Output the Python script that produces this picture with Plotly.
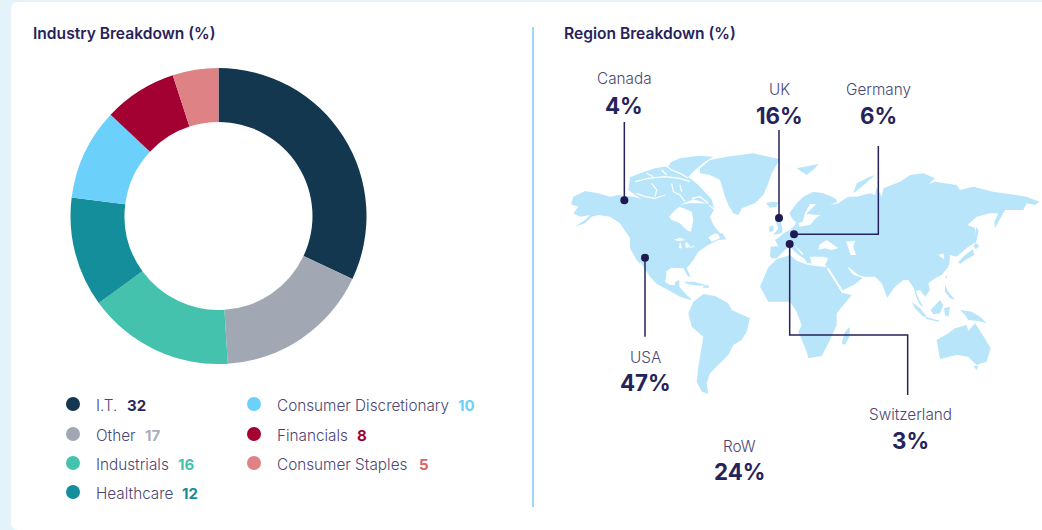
import plotly.graph_objects as go

W, H = 1042, 530
FONT = "Inter"
NAVY = "#26235C"
MUTED = "#4B4775"
LAND = "#B9E5FB"

# ---- donut data
INDUSTRIES = ["I.T.", "Other", "Industrials", "Healthcare", "Consumer Discretionary", "Financials", "Consumer Staples"]
WEIGHTS = [32, 17, 16, 12, 10, 8, 5]
SLICE_COLORS = ["#12374F", "#A1A8B4", "#45C2AE", "#148E9A", "#6BD0FA", "#A30132", "#DE8286"]
VALUE_COLORS = ["#2B275F", "#A9AEBB", "#45C2AE", "#148E9A", "#6BD0FA", "#A30132", "#D8646C"]

# ---- region data
REGIONS = ["Canada", "UK", "Germany", "USA", "Switzerland", "RoW"]
REGION_SHARES = [4, 16, 6, 47, 3, 24]

# ---- map outlines, in map units (3 units per pixel)
NORTH_AMERICA = [(33,193),(40,170),(75,153),(115,160),(150,170),(175,165),(220,170),(245,177),(280,175),(315,175),(345,180),(360,195),(385,190),(410,190),(440,190),(462,210),(450,230),(460,255),(480,280),(500,298),(475,300),(445,315),(415,335),(400,360),(380,385),(392,410),(383,408),(370,385),(335,383),(317,395),(320,400),(315,425),(330,435),(345,435),(345,425),(358,420),(358,440),(380,465),(395,478),(390,480),(360,470),(320,448),(290,432),(270,410),(255,390),(230,360),(210,325),(210,295),(180,250),(150,230),(115,225),(95,230),(75,250),(45,260),(75,240),(90,225),(60,230),(40,220),(55,200)]
ARCTIC_BLOCK = [(210,112),(240,100),(285,85),(325,78),(335,65),(360,55),(415,47),(460,50),(435,65),(405,90),(385,110),(415,135),(455,178),(462,205),(440,190),(400,178),(360,195),(315,178),(245,178),(205,150)]
ARCTIC_CHANNELS = [
    [(225,125),(265,115),(315,110),(360,115),(390,125)],
    [(230,160),(255,170),(285,175),(315,165)],
    [(275,130),(290,150),(285,170)],
    [(335,130),(340,155),(360,165),(375,185)],
    [(315,75),(335,90),(360,100),(385,115)],
    [(360,135),(365,155)],
    [(395,175),(420,170),(445,190)],
    [(260,100),(280,110)],
    [(305,90),(320,105)],
]
HUDSON_BAY = [(327,230),(345,210),(360,200),(395,215),(400,240),(393,275),(380,270),(360,250),(335,240)]
LAKES = [[(340,300),(360,293),(375,300),(358,303)],[(360,305),(366,325),(357,325)],[(378,305),(392,318),(380,325),(375,315)],[(385,325),(405,315),(400,322)]]
ST_LAWRENCE = [(445,292),(465,280),(485,285),(480,295),(455,305)]
NEWFOUNDLAND = [(474,282),(488,280),(494,292),(480,294)]
GULF_OF_CALIFORNIA = [(240,368),(252,385),(266,408)]
GREENLAND = [(420,85),(450,60),(500,50),(580,40),(660,58),(635,100),(625,130),(610,165),(585,190),(545,205),(535,225),(520,220),(505,195),(495,170),(480,120),(450,105),(420,100)]
ICELAND = [(618,190),(635,185),(655,187),(650,200),(630,203)]
SVALBARD = [(710,85),(740,78),(775,72),(765,85),(740,105),(725,95)]
BRITAIN = [(645,240),(660,235),(668,270),(665,280),(640,285),(655,265)]
IRELAND = [(628,262),(640,255),(640,272),(628,277)]
NOVAYA_ZEMLYA = [(880,160),(890,130),(930,110),(945,105),(900,145)]
EURASIA = [(630,345),(632,320),(655,318),(645,300),(660,290),(670,280),(690,270),(705,255),(712,240),(718,260),(750,255),(765,237),(780,225),(755,223),(738,222),(768,193),(750,192),(735,220),(728,245),(712,250),(698,238),(688,220),(710,190),(730,170),(760,155),(790,160),(825,175),(832,185),(810,195),(835,190),(865,170),(890,170),(930,160),(945,165),(950,140),(965,170),(970,145),(995,135),(1020,125),(1050,105),(1090,100),(1125,115),(1105,133),(1125,125),(1190,135),(1200,150),(1240,140),(1300,155),(1360,165),(1400,170),(1438,185),(1425,195),(1400,190),(1390,210),(1355,210),(1335,210),(1305,265),(1303,245),(1315,220),(1290,220),(1250,230),(1222,255),(1245,263),(1250,305),(1225,320),(1190,350),(1170,345),(1168,375),(1155,375),(1150,340),(1135,345),(1155,360),(1162,360),(1165,380),(1145,405),(1125,415),(1105,430),(1110,450),(1095,470),(1080,450),(1068,453),(1075,475),(1090,500),(1080,495),(1068,470),(1062,445),(1045,420),(1030,420),(1005,440),(982,473),(965,430),(945,410),(912,410),(895,405),(870,385),(862,380),(875,400),(887,407),(908,413),(885,433),(850,450),(845,452),(820,415),(800,385),(795,375),(805,355),(790,350),(750,350),(755,372),(740,365),(725,335),(703,315),(722,340),(745,358),(743,372),(735,358),(712,342),(695,325),(680,325),(665,340),(650,355),(633,355)]
BLACK_SEA = [(778,315),(800,300),(835,325),(815,330),(795,325),(775,330)]
CASPIAN = [(858,305),(885,302),(880,320),(888,345),(872,345),(862,320)]
RED_SEA = [(803,385),(825,420),(848,456)]
AFRICA = [(600,440),(625,382),(650,358),(690,345),(710,362),(745,375),(800,382),(810,390),(845,458),(875,465),(830,520),(830,555),(810,600),(785,648),(745,655),(740,635),(715,575),(725,555),(710,515),(690,485),(625,485)]
MADAGASCAR = [(845,610),(855,575),(870,560),(868,590),(855,615)]
SOUTH_AMERICA = [(385,520),(400,485),(430,462),(465,468),(505,490),(515,510),(570,535),(560,575),(545,600),(520,615),(505,645),(480,670),(450,700),(440,730),(445,762),(425,755),(410,725),(415,680),(430,590),(395,560)]
CARIBBEAN = [[(370,425),(400,425),(440,435),(415,437),(385,433)],[(428,437),(445,436),(448,443),(430,443)]]
AUSTRALIA = [(1130,600),(1165,580),(1185,565),(1220,555),(1225,573),(1245,550),(1265,580),(1292,625),(1280,665),(1250,675),(1225,650),(1190,645),(1140,657),(1135,630)]
TASMANIA = [(1240,678),(1255,678),(1250,690)]
ASIA_ISLANDS = [
    [(1055,485),(1080,505),(1100,530),(1090,530),(1065,505)],
    [(1095,530),(1140,542),(1135,545),(1100,537)],
    [(1112,510),(1140,480),(1150,495),(1140,520),(1120,523)],
    [(1152,505),(1170,500),(1165,530),(1155,525)],
    [(1155,435),(1165,455),(1185,480),(1170,475),(1155,455)],
    [(1158,405),(1162,415),(1156,413)],
    [(1200,510),(1235,515),(1260,530),(1280,550),(1255,543),(1225,540),(1215,525)],
    [(1195,365),(1215,345),(1238,328),(1243,345),(1220,358),(1200,372)],
    [(1248,308),(1258,318),(1248,328),(1240,318)],
    [(1248,262),(1256,270),(1250,300),(1246,290)],
]

# ---- call-out leaders, in the same map units (dot first)
LEADER_U = [[193,193],[657,657],[702,955,955],[689,689,1043,1043],[255,255]]
LEADER_V = [[181,-54],[234,-30],[283,283,18],[312,585,585,765],[353,590]]

X0, X1 = (0 - 560) * 3, (W - 560) * 3
Y0, Y1 = (0 - 140) * 3, (H - 140) * 3
def u(px): return (px - 560) * 3
def v(py): return (py - 140) * 3
def px(x): return x / W
def py(y): return 1 - y / H

fig = go.Figure()

fig.add_trace(go.Pie(
    values=WEIGHTS, labels=INDUSTRIES, sort=False, direction="clockwise", rotation=0,
    hole=0.635, marker=dict(colors=SLICE_COLORS, line=dict(width=0)),
    textinfo="none", hoverinfo="skip", showlegend=False,
    domain=dict(x=[px(70.5), px(366.5)], y=[py(364), py(68)]),
))

def poly(points, color):
    xs = [p[0] for p in points] + [points[0][0]]
    ys = [p[1] for p in points] + [points[0][1]]
    fig.add_trace(go.Scatter(x=xs, y=ys, mode="lines", fill="toself", fillcolor=color,
                             line=dict(width=0, color=color), hoverinfo="skip", showlegend=False))

def stroke(points, color, width):
    fig.add_trace(go.Scatter(x=[p[0] for p in points], y=[p[1] for p in points], mode="lines",
                             line=dict(color=color, width=width), hoverinfo="skip", showlegend=False))

land = [NORTH_AMERICA, ARCTIC_BLOCK, GREENLAND, ICELAND, SVALBARD, BRITAIN, IRELAND, NOVAYA_ZEMLYA, EURASIA,
        AFRICA, MADAGASCAR, SOUTH_AMERICA, AUSTRALIA, TASMANIA] + CARIBBEAN + ASIA_ISLANDS
for shape in land:
    poly(shape, LAND)
for shape in [HUDSON_BAY, ST_LAWRENCE, BLACK_SEA, CASPIAN] + LAKES:
    poly(shape, "#FFFFFF")
poly(NEWFOUNDLAND, LAND)
for channel in ARCTIC_CHANNELS:
    stroke(channel, "#FFFFFF", 1.2)
stroke(GULF_OF_CALIFORNIA, "#FFFFFF", 1.2)
stroke(RED_SEA, "#FFFFFF", 2)

for lu, lv in zip(LEADER_U, LEADER_V):
    fig.add_trace(go.Scatter(x=lu, y=lv, mode="lines", line=dict(color=NAVY, width=1.5),
                             hoverinfo="skip", showlegend=False))
    fig.add_trace(go.Scatter(x=lu[:1], y=lv[:1], mode="markers", marker=dict(color="#1F1B50", size=8),
                             hoverinfo="skip", showlegend=False))

LEGEND_X = [73, 73, 73, 73, 254, 254, 254]
LEGEND_Y = [404, 434, 463, 492, 404, 434, 463]
fig.add_trace(go.Scatter(x=[u(a) for a in LEGEND_X], y=[v(b) for b in LEGEND_Y], mode="markers",
                         marker=dict(color=SLICE_COLORS, size=14), hoverinfo="skip", showlegend=False))

ann = []
def text(x, y, s, size, color, weight=300, anchor="left"):
    ann.append(dict(x=px(x), y=py(y), xref="paper", yref="paper", text=s,
                    showarrow=False, xanchor=anchor, yanchor="middle",
                    font=dict(family=FONT, size=size, color=color, weight=weight), borderpad=0, borderwidth=0))

text(33, 33.5, "Industry Breakdown (%)", 15.6, NAVY, 600)
text(564, 33.5, "Region Breakdown (%)", 15.6, NAVY, 600)

LABEL_X = [96, 96, 96, 96, 277, 277, 277]
VALUE_X = [127, 145, 178, 182, 458, 357, 419]
for name, w, c, lx, vx, y in zip(INDUSTRIES, WEIGHTS, VALUE_COLORS, LABEL_X, VALUE_X, LEGEND_Y):
    text(lx, y + 1, name, 15.3, MUTED)
    text(vx, y + 1, str(w), 15, c, 700)

LABEL_POS = [(624, 78, 105), (779, 89, 115), (878, 89, 115), (645, 356, 382), (910, 413, 440), (739, 445, 471)]
for name, share, (x, y1, y2) in zip(REGIONS, REGION_SHARES, LABEL_POS):
    text(x, y1 + 1, name, 15.3, MUTED, anchor="center")
    text(x, y2, f"{share}%", 22.3, NAVY, 700, anchor="center")

rx, ry = 7 / W, 7 / H
l, t, r, b = 11 / W, 1 - 2 / H, 1.02, 0.0
card = (f"M {l+rx} {t} L {r} {t} L {r} {b} L {l+rx} {b} Q {l} {b} {l} {b+ry} "
        f"L {l} {t-ry} Q {l} {t} {l+rx} {t} Z")
shapes = [
    dict(type="path", path=card, xref="paper", yref="paper", fillcolor="#FFFFFF", line=dict(width=0), layer="below"),
    dict(type="line", xref="paper", yref="paper", x0=px(533), x1=px(533), y0=py(27), y1=py(507),
         line=dict(color="#7CCBF5", width=1.5), layer="below"),
]

fig.update_layout(
    width=W, height=H, margin=dict(l=0, r=0, t=0, b=0),
    paper_bgcolor="#E4F2F9", plot_bgcolor="rgba(0,0,0,0)",
    xaxis=dict(range=[X0, X1], visible=False, domain=[0, 1], fixedrange=True),
    yaxis=dict(range=[Y1, Y0], visible=False, domain=[0, 1], fixedrange=True),
    annotations=ann, shapes=shapes, showlegend=False, hovermode=False,
)
fig.write_html("out.html", config=dict(displayModeBar=False),
               post_script="document.body.style.margin='0';document.body.style.overflow='hidden';")
